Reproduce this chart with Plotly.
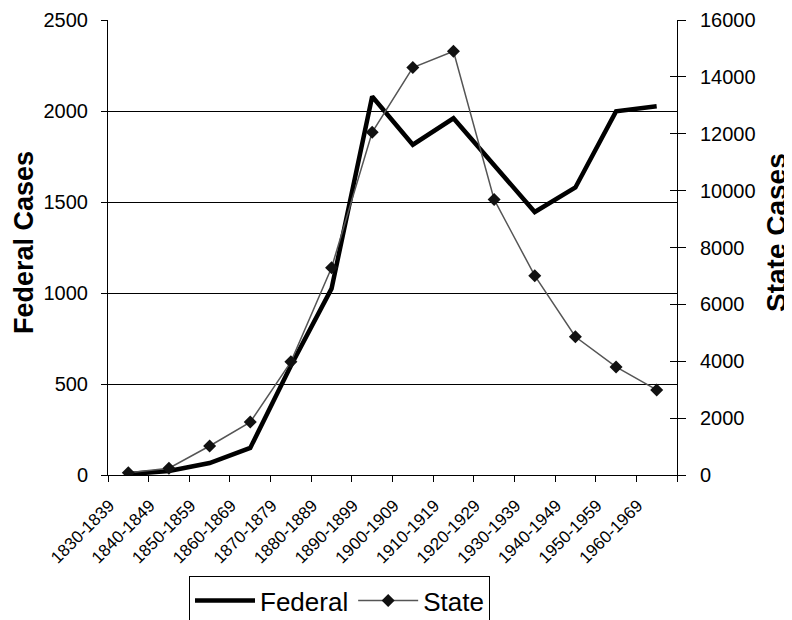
import plotly.graph_objects as go

decades = ["1830-1839", "1840-1849", "1850-1859", "1860-1869", "1870-1879",
           "1880-1889", "1890-1899", "1900-1909", "1910-1919", "1920-1929",
           "1930-1939", "1940-1949", "1950-1959", "1960-1969"]
federal_cases = [5, 22, 66, 149, 600, 1024, 2080, 1815, 1960, 1705,
                 1445, 1580, 1998, 2026]
state_cases = [80, 240, 1020, 1860, 3980, 7290, 12050, 14330, 14900, 9690,
               7010, 4860, 3800, 2990]

FONT = "Arial, Liberation Sans, sans-serif"
OFF = 8  # page body margin offset
W, H = 792 - OFF, 620 - OFF
L, R, T, B = 108 - OFF, 115, 20 - OFF, 145
PW, PH = W - L - R, H - T - B


def px_x(x):
    return (x - OFF - L) / PW


def px_y(y):
    return (T + PH - (y - OFF)) / PH


fig = go.Figure()
fig.add_trace(go.Scatter(
    x=decades, y=federal_cases, name="Federal", mode="lines",
    line=dict(color="black", width=4.5), yaxis="y"))
fig.add_trace(go.Scatter(
    x=decades, y=state_cases, name="State", mode="lines+markers",
    line=dict(color="#555555", width=1.5),
    marker=dict(symbol="diamond", size=10, color="#111111"),
    yaxis="y2"))
# invisible helper trace to carry the inner half of the right-axis ticks
fig.add_trace(go.Scatter(x=decades, y=state_cases, yaxis="y3", mode="lines",
                         line=dict(width=0), showlegend=False, hoverinfo="skip",
                         opacity=0))

fig.update_layout(
    width=W, height=H,
    margin=dict(l=L, r=R, t=T, b=B, autoexpand=False),
    paper_bgcolor="white", plot_bgcolor="white",
    font=dict(family=FONT, color="black", size=20),
    showlegend=True,
    legend=dict(orientation="h", x=px_x(189), y=px_y(576),
                xanchor="left", yanchor="top",
                bordercolor="black", borderwidth=1, font=dict(size=26),
                bgcolor="white", itemwidth=60),
    xaxis=dict(type="category", tickson="boundaries", ticks="outside", ticklen=6,
               tickcolor="black", showline=True, linecolor="black", linewidth=1,
               tickangle=-45, tickfont=dict(size=17), ticklabelshift=-19,
               ticklabelstandoff=13, automargin=False,
               showgrid=False, zeroline=False, range=[-0.5, 13.5]),
    yaxis=dict(range=[0, 2500], dtick=500, ticks="outside", ticklen=6,
               tickcolor="black", showline=True, linecolor="black",
               showgrid=True, gridcolor="black", gridwidth=1, zeroline=False,
               ticklabelstandoff=9, automargin=False, tickformat="d"),
    yaxis2=dict(range=[0, 16000], dtick=2000, overlaying="y", side="right",
                ticks="outside", ticklen=8, tickcolor="black", showline=True,
                linecolor="black", showgrid=False, zeroline=False,
                ticklabelstandoff=10, automargin=False, tickformat="d"),
    yaxis3=dict(range=[0, 16000], dtick=2000, overlaying="y", side="right",
                ticks="inside", ticklen=7, tickcolor="black", showline=False,
                showticklabels=False, showgrid=False, zeroline=False,
                automargin=False),
    annotations=[
        dict(text="<b>Federal Cases</b>", textangle=-90, font=dict(size=27),
             xref="paper", yref="paper", x=px_x(8), y=px_y(243),
             xanchor="left", yanchor="middle", showarrow=False, borderpad=0),
        dict(text="<b>State Cases</b>", textangle=-90, font=dict(size=28),
             xref="paper", yref="paper", x=px_x(776), y=px_y(233),
             xanchor="center", yanchor="middle", showarrow=False),
    ],
)

fig.write_html("out.html")
